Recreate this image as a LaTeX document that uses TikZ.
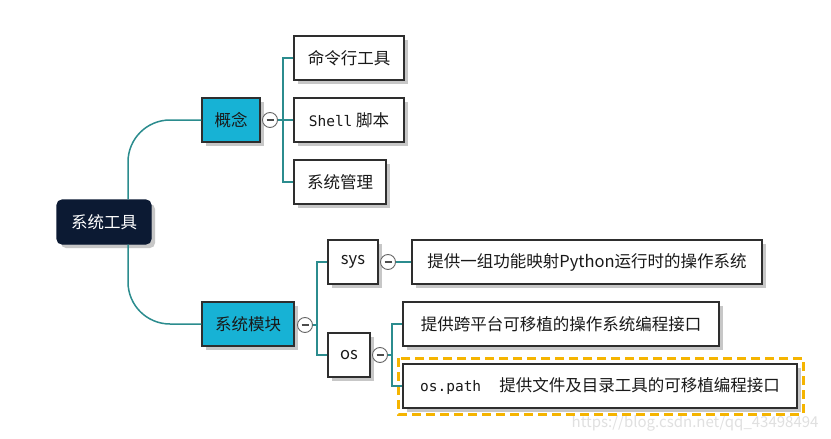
\documentclass[tikz,border=0pt]{standalone}
\usepackage{fontspec}
\setmainfont{Noto Sans CJK SC}
\newfontfamily\monof{DejaVu Sans Mono}
\usetikzlibrary{shadows}
\definecolor{teal1}{HTML}{2B8C8E}
\definecolor{cyanf}{HTML}{17B2D5}
\definecolor{navy}{HTML}{0C1A33}
\definecolor{bord}{HTML}{2E2E2E}
\definecolor{orng}{HTML}{F5B400}
\tikzset{
  box/.style={draw=bord, line width=1.1pt, fill=white, minimum height=44pt, inner sep=0pt,
    font=\fontsize{16.5}{19}\selectfont, text=black!90,
    drop shadow={shadow xshift=4pt, shadow yshift=-4pt, fill=black!22, opacity=1}},
  cbox/.style={box, fill=cyanf, text=black!90},
  rootbox/.style={box, draw=navy, fill=navy, text=white, rounded corners=5pt},
  tog/.style={circle, draw=black!60, line width=0.9pt, fill=white, minimum size=15pt, inner sep=0pt,
    path picture={\draw[black!70, line width=1.1pt] ([xshift=-3.5pt]path picture bounding box.center) -- ([xshift=3.5pt]path picture bounding box.center);}},
  conn/.style={draw=teal1, line width=1.5pt},
}
\begin{document}
\begin{tikzpicture}[x=1pt,y=-1pt]
\useasboundingbox[fill=white] (0,0) rectangle (831,439);
% watermark
\node[text=black!12, font=\fontsize{15}{18}\selectfont, anchor=east] (wm) at (822,423) {https://blog.csdn.net/qq\_43498494};
% nodes
\node[rootbox, minimum width=94pt] (root) at (104,222) {系统工具};
\node[cbox, minimum width=58pt] (gn) at (231,120) {概念};
\node[cbox, minimum width=92pt] (mk) at (248,324) {系统模块};
\node[box, minimum width=110pt] (a1) at (349,58) {命令行工具};
\node[box, minimum width=110pt] (a2) at (349,120) {{\monof\fontsize{14.5}{18}\selectfont Shell} 脚本};
\node[box, minimum width=92pt] (a3) at (340,182) {系统管理};
\node[box, minimum width=50pt] (sys) at (353,262) {sys};
\node[box, minimum width=42pt] (os) at (349,355) {os};
\node[box, minimum width=350pt] (sysd) at (587,262) {提供一组功能映射Python运行时的操作系统};
\node[box, minimum width=316pt] (osd) at (561,324) {提供跨平台可移植的操作系统编程接口};
\node[box, minimum width=394pt] (osp) at (600,386) {{\monof\fontsize{14.5}{18}\selectfont os.path}\hspace{1.1em}提供文件及目录工具的可移植编程接口};
\draw[orng, line width=3pt, dash pattern=on 9pt off 5pt] (398,358) rectangle (803,414);
% toggles
\node[tog] (t1) at (270,120) {};
\node[tog] (t2) at (305,325) {};
\node[tog] (t3) at (388,262) {};
\node[tog] (t4) at (380,355) {};
% bus coordinates
\coordinate (b1) at (283,120);
\coordinate (b2) at (317,325);
\coordinate (b4) at (392,355);
\coordinate (rt) at ([xshift=24pt]root.north);
\coordinate (rb) at ([xshift=24pt]root.south);
% connectors
\draw[conn, rounded corners=42pt] (rt) |- (gn.west);
\draw[conn, rounded corners=42pt] (rb) |- (mk.west);
\draw[conn] (t1.east) -- (b1);
\draw[conn] (b1) |- (a1.west);
\draw[conn] (b1) |- (a2.west);
\draw[conn] (b1) |- (a3.west);
\draw[conn] (t2.east) -- (b2);
\draw[conn] (b2) |- (sys.west);
\draw[conn] (b2) |- (os.west);
\draw[conn] (t3.east) -- (sysd.west);
\draw[conn] (t4.east) -- (b4);
\draw[conn] (b4) |- (osd.west);
\draw[conn] (b4) |- (osp.west);
\end{tikzpicture}
\end{document}
